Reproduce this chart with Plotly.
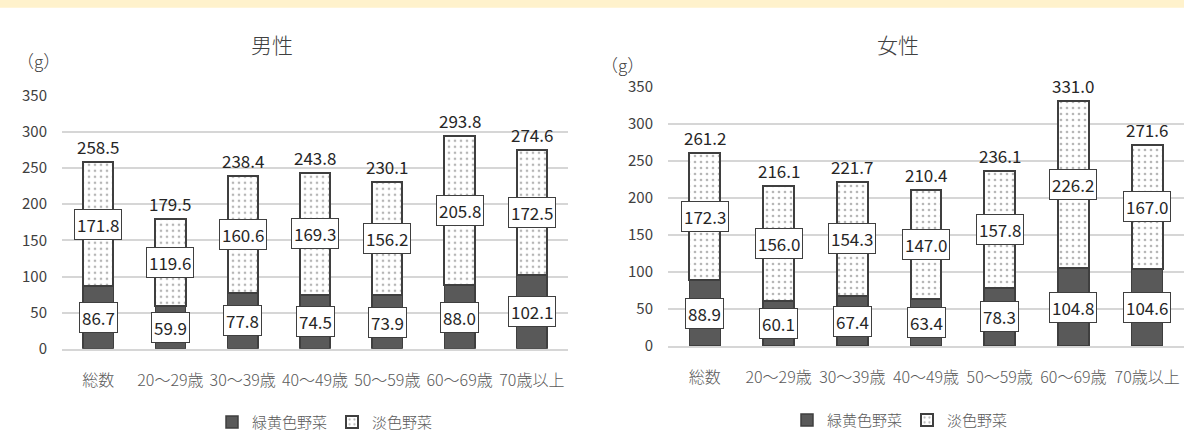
import plotly.graph_objects as go

# Age groups shown on both panels
categories = ["総数", "20〜29歳", "30〜39歳", "40〜49歳", "50〜59歳", "60〜69歳", "70歳以上"]
y_ticks = [0, 50, 100, 150, 200, 250, 300, 350]

# Daily vegetable intake (g): green-yellow and light-coloured vegetables
male_green = [86.7, 59.9, 77.8, 74.5, 73.9, 88.0, 102.1]
male_light = [171.8, 119.6, 160.6, 169.3, 156.2, 205.8, 172.5]
female_green = [88.9, 60.1, 67.4, 63.4, 78.3, 104.8, 104.6]
female_light = [172.3, 156.0, 154.3, 147.0, 157.8, 226.2, 167.0]

series_names = ["緑黄色野菜", "淡色野菜"]
panel_titles = ["男性", "女性"]

W, H = 1184, 439
FONT = "Noto Sans CJK JP, Noto Sans, sans-serif"
DARK = "#595959"
EDGE = "#3f3f3f"
GRID = "#d6d6d6"
TEXT = "#262626"


def px_x(p):
    return p / W


def px_y(p):
    return 1 - p / H


def text_font(size, color=TEXT, weight=300):
    return dict(family=FONT, size=size, color=color, weight=weight)


fig = go.Figure()

panels = [
    dict(green=male_green, light=male_light, xa="x", ya="y", leg="legend"),
    dict(green=female_green, light=female_light, xa="x2", ya="y2", leg="legend2"),
]

annotations = []
for p in panels:
    fig.add_trace(go.Bar(
        x=categories, y=p["green"], name=series_names[0],
        xaxis=p["xa"], yaxis=p["ya"], legend=p["leg"],
        marker=dict(color=DARK, line=dict(color=EDGE, width=1.5)),
        hoverinfo="skip",
    ))
    fig.add_trace(go.Bar(
        x=categories, y=p["light"], name=series_names[1],
        xaxis=p["xa"], yaxis=p["ya"], legend=p["leg"],
        marker=dict(color="white", line=dict(color=EDGE, width=2),
                    pattern=dict(shape=".", fgcolor="#6e6e6e", bgcolor="white",
                                 size=6, solidity=0.16)),
        hoverinfo="skip",
    ))
    for cat, g, l in zip(categories, p["green"], p["light"]):
        box = dict(xref=p["xa"], yref=p["ya"], x=cat, showarrow=False,
                   font=text_font(17, weight=400),
                   bgcolor="white", bordercolor=EDGE, borderwidth=1, borderpad=2)
        annotations.append(dict(box, y=g / 2, text=f"{g:.1f}"))
        annotations.append(dict(box, y=g + l / 2, text=f"{l:.1f}"))
        total = round(g + l, 1)
        annotations.append(dict(xref=p["xa"], yref=p["ya"], x=cat, y=total,
                                yanchor="bottom", yshift=1, showarrow=False,
                                text=f"{total:.1f}", font=text_font(17, weight=400)))

# Panel titles and unit labels
label = dict(xref="paper", yref="paper", xanchor="center", yanchor="middle",
             showarrow=False)
annotations += [
    dict(label, x=px_x(272), y=px_y(45), text=panel_titles[0],
         font=text_font(21, "#404040")),
    dict(label, x=px_x(898), y=px_y(45), text=panel_titles[1],
         font=text_font(21, "#404040")),
    dict(label, x=px_x(38), y=px_y(62), text="（g）", font=text_font(17, "#404040")),
    dict(label, x=px_x(622), y=px_y(66), text="（g）", font=text_font(17, "#404040")),
]

xaxis_common = dict(type="category", showgrid=False, showline=True, linecolor=GRID,
                    linewidth=1.5, ticks="", tickangle=0, ticklabelstandoff=16,
                    tickfont=text_font(16, "#595959"), fixedrange=True)
yaxis_common = dict(range=[0, 350], tickvals=y_ticks, showgrid=True, gridcolor=GRID,
                    gridwidth=1.5, zeroline=False, showline=False, ticks="",
                    ticklabelstandoff=14, automargin=False,
                    tickfont=text_font(15, "#404040", weight=400), fixedrange=True)

legend_common = dict(orientation="h", xanchor="center", yanchor="middle",
                     font=text_font(15, "#595959"),
                     bgcolor="rgba(0,0,0,0)", itemwidth=30, traceorder="normal")

fig.update_layout(
    width=W, height=H,
    margin=dict(l=0, r=0, t=0, b=0),
    paper_bgcolor="white", plot_bgcolor="white",
    barmode="stack", bargap=0.58,
    font=dict(family=FONT),
    xaxis=dict(xaxis_common, domain=[px_x(62), px_x(568)], anchor="y"),
    yaxis=dict(yaxis_common, domain=[px_y(357), px_y(98)], anchor="x"),
    xaxis2=dict(xaxis_common, domain=[px_x(668), 1.0], anchor="y2"),
    yaxis2=dict(yaxis_common, domain=[px_y(354), px_y(89)], anchor="x2"),
    legend=dict(legend_common, x=px_x(325), y=px_y(432)),
    legend2=dict(legend_common, x=px_x(900), y=px_y(430)),
    annotations=annotations,
    shapes=[dict(type="rect", xref="paper", yref="paper", x0=0, x1=1,
                 y0=px_y(8), y1=1, fillcolor="#FFF2CC", line=dict(width=0),
                 layer="below")],
)

fig.write_html("out.html")
